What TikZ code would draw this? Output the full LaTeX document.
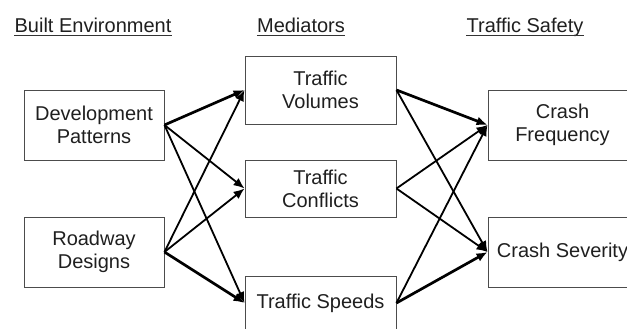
\documentclass[tikz,border=0pt]{standalone}
\usepackage{fontspec}
\setmainfont{Liberation Sans}
\usetikzlibrary{arrows.meta}
\begin{document}
\begin{tikzpicture}[x=1pt,y=-1pt,
  box/.style={draw=black!70,line width=0.9pt,rectangle,inner sep=0pt,align=center,
    font=\fontsize{20}{23}\selectfont,text=black!88},
  head/.style={inner sep=0pt,anchor=base,font=\fontsize{20}{23}\selectfont,text=black!88},
  thin/.style={line width=1.8pt,-{Latex[length=11pt,width=9pt]}},
  thick/.style={line width=2.7pt,-{Latex[length=11pt,width=9pt]}}]
\useasboundingbox (0,0) rectangle (627,329);
\clip (0,0) rectangle (627,329);
% headers
\node[head] (h1) at (93,33) {Built Environment};
\node[head] (h2) at (301,33) {Mediators};
\node[head] (h3) at (525,33) {Traffic Safety};
\foreach \h in {h1,h2,h3}{
  \draw[line width=0.9pt,black!80] ([yshift=-2pt]\h.base west) -- ([yshift=-2pt]\h.base east);
}
% boxes
\node[box,minimum width=140pt,minimum height=70pt] (dev) at (94,125) {Development\\Patterns};
\node[box,minimum width=140pt,minimum height=70pt] (road) at (94,252) {Roadway\\Designs};
\node[box,minimum width=151pt,minimum height=68pt] (vol) at (320.5,90) {Traffic\\Volumes};
\node[box,minimum width=151pt,minimum height=57pt] (con) at (320.5,188.5) {Traffic\\Conflicts};
\node[box,minimum width=151pt,minimum height=54pt] (spd) at (320.5,303) {Traffic Speeds};
\node[box,minimum width=149pt,minimum height=70pt] (freq) at (562.5,125) {Crash\\Frequency};
\node[box,minimum width=149pt,minimum height=70pt] (sev) at (562.5,252) {Crash Severity};
% arrows
\draw[thick] (dev.east) -- (vol.west);
\draw[thin] (dev.east) -- (con.west);
\draw[thin] (dev.east) -- (spd.west);
\draw[thin] (road.east) -- (vol.west);
\draw[thin] (road.east) -- (con.west);
\draw[thick] (road.east) -- (spd.west);
\draw[thick] (vol.east) -- (freq.west);
\draw[thin] (vol.east) -- (sev.west);
\draw[thin] (con.east) -- (freq.west);
\draw[thin] (con.east) -- (sev.west);
\draw[thin] (spd.east) -- (freq.west);
\draw[thick] (spd.east) -- (sev.west);
\end{tikzpicture}
\end{document}
